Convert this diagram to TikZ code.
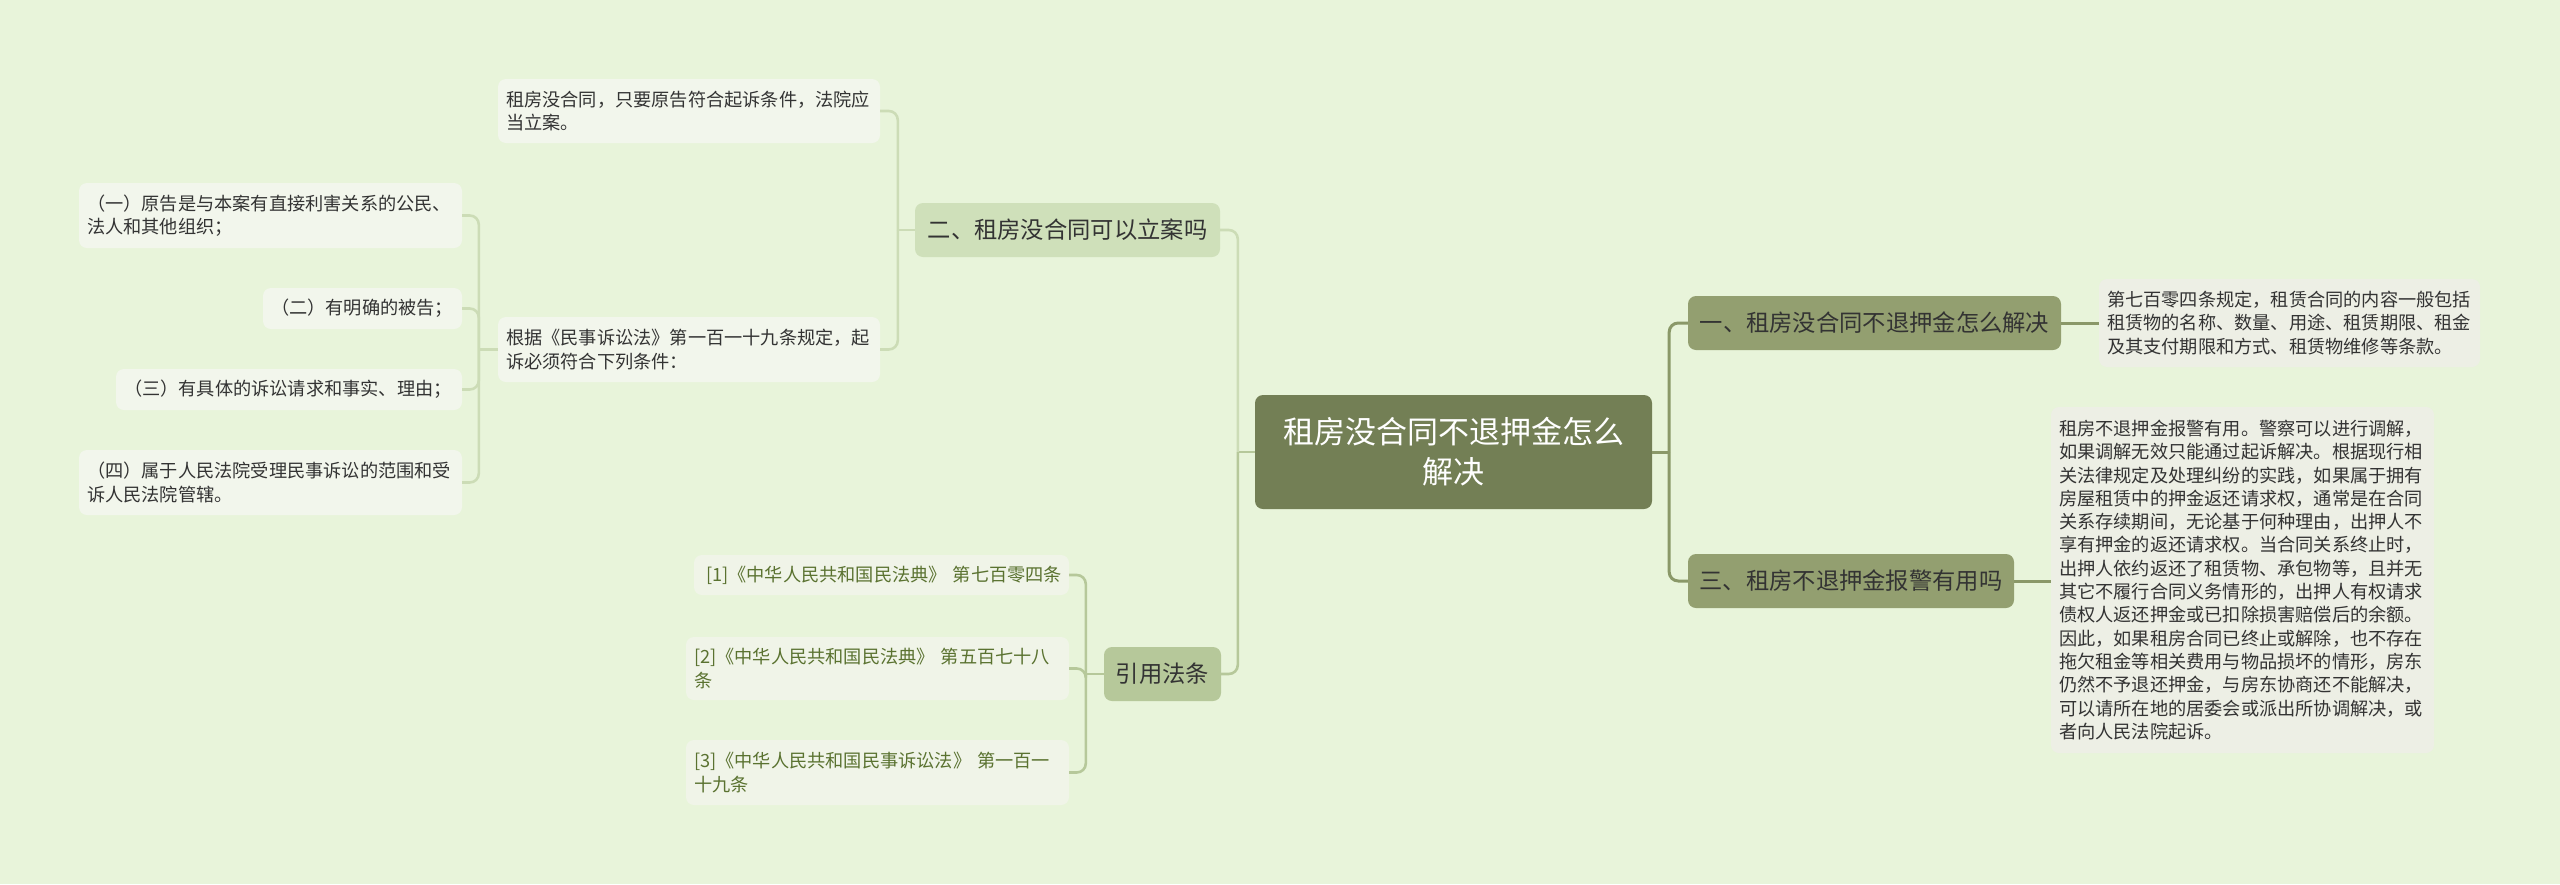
\documentclass[tikz,border=0pt]{standalone}
\usepackage{fontspec}
\setmainfont{Noto Sans CJK SC}
\usetikzlibrary{calc}
\definecolor{bgc}{HTML}{E8F4DA}
\definecolor{rootc}{HTML}{737F55}
\definecolor{bonec}{HTML}{939F70}
\definecolor{btwoc}{HTML}{CFE0BA}
\definecolor{refc}{HTML}{B6C89A}
\definecolor{leafr}{HTML}{EDEFE5}
\definecolor{leafl}{HTML}{F2F6EC}
\definecolor{leafref}{HTML}{F0F4E8}
\definecolor{rline}{HTML}{8A9868}
\definecolor{lline}{HTML}{CCDCB6}
\definecolor{refline}{HTML}{B6C89A}
\definecolor{txt}{HTML}{333333}
\definecolor{reftxt}{HTML}{5A7230}
\tikzset{
  box/.style={rounded corners=8pt, inner xsep=8pt, inner ysep=2pt, draw=none},
  rootbox/.style={box, fill=rootc, text=white, align=center,
    font=\fontsize{31}{40}\selectfont},
  mainbox/.style={box, fill=bonec, text=txt, align=center,
    font=\fontsize{23.3}{28}\selectfont},
  twobox/.style={box, fill=btwoc, text=txt, align=center,
    font=\fontsize{23.3}{28}\selectfont},
  citebox/.style={box, fill=refc, text=txt, align=center,
    font=\fontsize{23.3}{28}\selectfont},
  rleaf/.style={box, fill=leafr, text=txt, align=left,
    font=\fontsize{18.2}{23.3}\selectfont},
  lleaf/.style={box, fill=leafl, text=txt, align=left,
    font=\fontsize{18.2}{23.3}\selectfont},
  refleaf/.style={box, fill=leafref, text=reftxt, align=left,
    font=\fontsize{18.2}{23.3}\selectfont},
  rconn/.style={draw=rline, line width=3pt, rounded corners=9pt},
  lconn/.style={draw=lline, line width=2.6pt, rounded corners=9pt},
  refconn/.style={draw=refline, line width=2.6pt, rounded corners=9pt},
}
\begin{document}
\begin{tikzpicture}[x=1pt,y=-1pt]
\fill[bgc] (0,0) rectangle (2560,884);
\useasboundingbox (0,0) rectangle (2560,884);

% root
\node[rootbox, minimum width=397pt, minimum height=114pt, text width=381pt] (root) at (1453.5,452) {租房没合同不退押金怎么\\解决};

% right side
\node[mainbox, minimum width=373pt, minimum height=54pt] (b1) at (1874.5,323) {一、租房没合同不退押金怎么解决};
\node[mainbox, minimum width=326pt, minimum height=54pt] (b3) at (1851,581) {三、租房不退押金报警有用吗};
\node[rleaf, minimum width=381pt, minimum height=88pt, text width=365pt] (l1) at (2289.5,323) {第七百零四条规定，租赁合同的内容一般包括\\租赁物的名称、数量、用途、租赁期限、租金\\及其支付期限和方式、租赁物维修等条款。};
\node[rleaf, minimum width=383pt, minimum height=346pt, text width=367pt] (l3) at (2242.5,580) {租房不退押金报警有用。警察可以进行调解，\\如果调解无效只能通过起诉解决。根据现行相\\关法律规定及处理纠纷的实践，如果属于拥有\\房屋租赁中的押金返还请求权，通常是在合同\\关系存续期间，无论基于何种理由，出押人不\\享有押金的返还请求权。当合同关系终止时，\\出押人依约返还了租赁物、承包物等，且并无\\其它不履行合同义务情形的，出押人有权请求\\债权人返还押金或已扣除损害赔偿后的余额。\\因此，如果租房合同已终止或解除，也不存在\\拖欠租金等相关费用与物品损坏的情形，房东\\仍然不予退还押金，与房东协商还不能解决，\\可以请所在地的居委会或派出所协调解决，或\\者向人民法院起诉。};

% left side
\node[twobox, minimum width=305pt, minimum height=54pt] (b2) at (1067.5,230) {二、租房没合同可以立案吗};
\node[citebox, minimum width=117pt, minimum height=54pt] (cite) at (1162.5,674) {引用法条};

\node[lleaf, minimum width=382pt, minimum height=64pt, text width=366pt] (l2a) at (689,111) {租房没合同，只要原告符合起诉条件，法院应\\当立案。};
\node[lleaf, minimum width=382pt, minimum height=65pt, text width=366pt] (l2b) at (689,349.5) {根据《民事诉讼法》第一百一十九条规定，起\\诉必须符合下列条件：};

\node[lleaf, minimum width=383pt, minimum height=65pt, text width=367pt] (s1) at (270.5,215.5) {（一）原告是与本案有直接利害关系的公民、\\法人和其他组织；};
\node[lleaf, minimum width=199pt, minimum height=41pt, text width=183pt] (s2) at (362.5,308.5) {（二）有明确的被告；};
\node[lleaf, minimum width=346pt, minimum height=41pt, text width=330pt] (s3) at (289,389.5) {（三）有具体的诉讼请求和事实、理由；};
\node[lleaf, minimum width=383pt, minimum height=65pt, text width=367pt] (s4) at (270.5,482.5) {（四）属于人民法院受理民事诉讼的范围和受\\诉人民法院管辖。};

\node[refleaf, minimum width=375pt, minimum height=40pt, text width=359pt] (r1) at (881.5,575) {\hspace*{4pt}[1]《中华人民共和国民法典》~第七百零四条};
\node[refleaf, minimum width=383pt, minimum height=63pt, text width=367pt] (r2) at (877.5,668.5) {[2]《中华人民共和国民法典》~第五百七十八\\条};
\node[refleaf, minimum width=383pt, minimum height=65pt, text width=367pt] (r3) at (877.5,772.5) {[3]《中华人民共和国民事诉讼法》~第一百一\\十九条};

% junction coordinates
\coordinate (rj) at ($(root.east)+(17,0)$);
\coordinate (lj) at ($(root.west)+(-17,0)$);
\coordinate (j2) at ($(b2.west)+(-17,0)$);
\coordinate (j3) at ($(l2b.west)+(-19,0)$);
\coordinate (j4) at ($(cite.west)+(-18,0)$);

% right connectors
\draw[rconn] (root.east) -- (rj);
\draw[rconn] (rj) |- (b1.west);
\draw[rconn] (rj) |- (b3.west);
\draw[rconn] (b1.east) -- (l1.west);
\draw[rconn] (b3.east) -- (b3.east -| l3.west);

% left connectors
\draw[refconn] (root.west) -- (lj);
\draw[lconn] (lj) |- (b2.east);
\draw[refconn] (lj) |- (cite.east);

\draw[lconn] (b2.west) -- (j2);
\draw[lconn] (j2) |- (l2a.east);
\draw[lconn] (j2) |- (l2b.east);

\draw[lconn] (l2b.west) -- (j3);
\draw[lconn] (j3) |- (s1.east);
\draw[lconn] (j3) |- (s2.east);
\draw[lconn] (j3) |- (s3.east);
\draw[lconn] (j3) |- (s4.east);

\draw[refconn] (cite.west) -- (j4);
\draw[refconn] (j4) |- (r1.east);
\draw[refconn] (j4) |- (r2.east);
\draw[refconn] (j4) |- (r3.east);
\end{tikzpicture}
\end{document}
